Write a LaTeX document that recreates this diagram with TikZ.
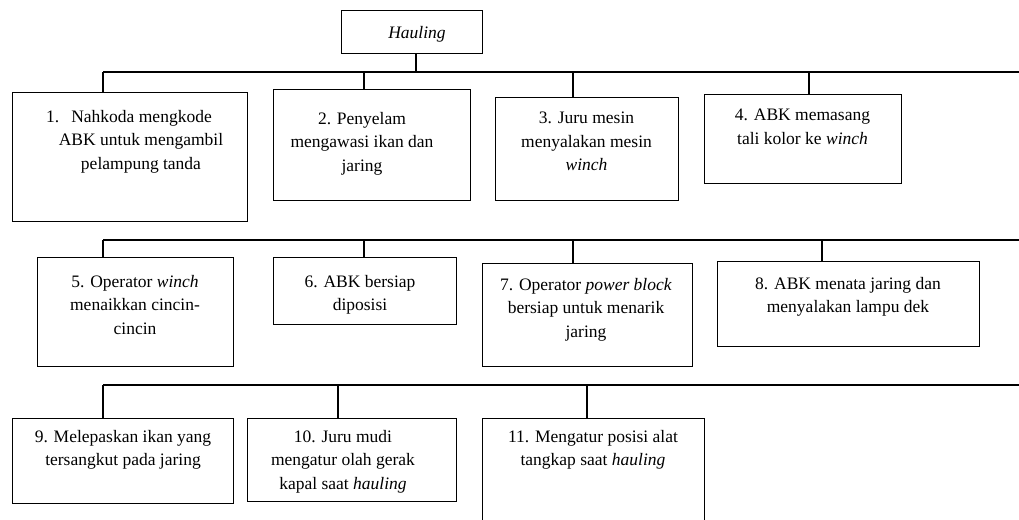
\documentclass[tikz,border=0pt]{standalone}
\usepackage{fontspec}
\setmainfont{Liberation Serif}
\begin{document}
\begin{tikzpicture}[x=1pt,y=-1pt,
  box/.style={draw, line width=1.3pt, inner sep=0pt, anchor=north west},
  txt/.style={align=center, anchor=north, inner sep=0pt, font=\fontsize{17.5}{23.5}\selectfont},
  link/.style={line width=1.3pt}]
\useasboundingbox (0,0) rectangle (1019,519);
\clip (0,0) rectangle (1019,519);
% boxes
\node[box, minimum width=141pt, minimum height=43pt] (h) at (341,10) {};
\node[box, minimum width=235pt, minimum height=129pt] (b1) at (12,92) {};
\node[box, minimum width=197pt, minimum height=111pt] (b2) at (273,89) {};
\node[box, minimum width=183pt, minimum height=103pt] (b3) at (495,97) {};
\node[box, minimum width=197pt, minimum height=89pt] (b4) at (704,94) {};
\node[box, minimum width=196pt, minimum height=109pt] (b5) at (37,257) {};
\node[box, minimum width=183pt, minimum height=67pt] (b6) at (273,257) {};
\node[box, minimum width=210pt, minimum height=103pt] (b7) at (482,263) {};
\node[box, minimum width=262pt, minimum height=85pt] (b8) at (717,261) {};
\node[box, minimum width=221pt, minimum height=85pt] (b9) at (12,418) {};
\node[box, minimum width=209pt, minimum height=83pt] (b10) at (247,418) {};
\node[box, minimum width=222pt, minimum height=130pt] (b11) at (482,418) {};
% texts
\node[txt] (th) at (417,26) {\textit{Hauling}};
\node[txt] (t1) at (141,110) {\hspace*{-24pt}1.\hspace{12pt}Nahkoda mengkode\\ABK untuk mengambil\\pelampung tanda};
\node[txt] (t2) at (362,112) {2. Penyelam\\mengawasi ikan dan\\jaring};
\node[txt] (t3) at (586.5,112) {3. Juru mesin\\menyalakan mesin\\\textit{winch}};
\node[txt] (t4) at (802.5,109) {4. ABK memasang\\tali kolor ke \textit{winch}};
\node[txt] (t5) at (135,275) {5. Operator \textit{winch}\\menaikkan cincin-\\cincin};
\node[txt] (t6) at (360,275) {6. ABK bersiap\\diposisi};
\node[txt] (t7) at (586,278) {7. Operator \textit{power block}\\bersiap untuk menarik\\jaring};
\node[txt] (t8) at (848,277) {8. ABK menata jaring dan\\menyalakan lampu dek};
\node[txt] (t9) at (123,430) {9. Melepaskan ikan yang\\tersangkut pada jaring};
\begin{scope}
\clip (247,418) rectangle (456,492);
\node[txt] (t10) at (343,430) {10. Juru mudi\\mengatur olah gerak\\kapal saat \textit{hauling}};
\end{scope}
\node[txt] (t11) at (593,430) {11. Mengatur posisi alat\\tangkap saat \textit{hauling}};
% bus coordinates
\coordinate (hb) at (416,72);
\coordinate (r1s) at (103,72);
\coordinate (r1e) at (1019,72);
\coordinate (c2) at (364,72);
\coordinate (c3) at (573,72);
\coordinate (c4) at (809,72);
\coordinate (r2s) at (103,240);
\coordinate (r2e) at (1019,240);
\coordinate (c6) at (364,240);
\coordinate (c7) at (573,240);
\coordinate (c8) at (822,240);
\coordinate (r3s) at (103,385);
\coordinate (r3e) at (1019,385);
\coordinate (c10) at (338,385);
\coordinate (c11) at (587,385);
% connectors
\draw[link] (h.south -| hb) -- (hb);
\draw[link] (r1s) -- (r1e);
\draw[link] (r1s) -- (r1s |- b1.north);
\draw[link] (c2) -- (c2 |- b2.north);
\draw[link] (c3) -- (c3 |- b3.north);
\draw[link] (c4) -- (c4 |- b4.north);
\draw[link] (r2s) -- (r2e);
\draw[link] (r2s) -- (r2s |- b5.north);
\draw[link] (c6) -- (c6 |- b6.north);
\draw[link] (c7) -- (c7 |- b7.north);
\draw[link] (c8) -- (c8 |- b8.north);
\draw[link] (r3s) -- (r3e);
\draw[link] (r3s) -- (r3s |- b9.north);
\draw[link] (c10) -- (c10 |- b10.north);
\draw[link] (c11) -- (c11 |- b11.north);
\end{tikzpicture}
\end{document}
